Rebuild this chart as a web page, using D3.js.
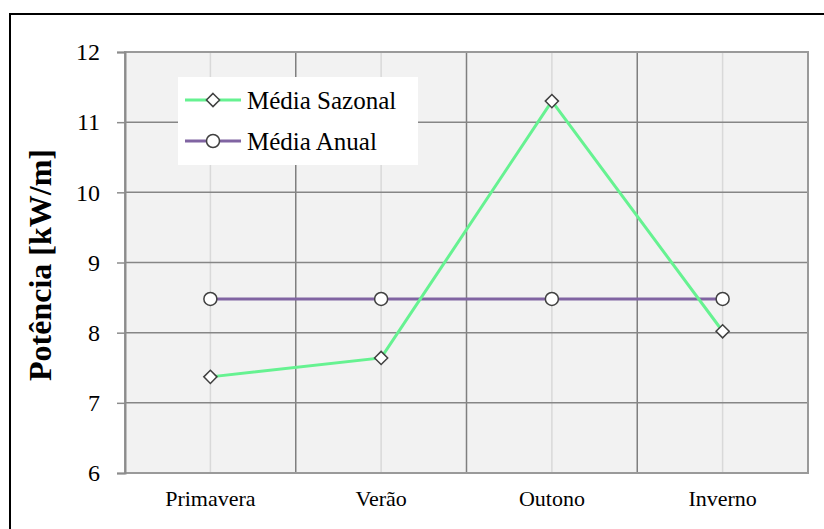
<!DOCTYPE html>
<html>
<head>
<meta charset="utf-8">
<script src="https://cdn.jsdelivr.net/npm/d3@7"></script>
<style>
  body { margin: 0; background: #ffffff; }
  svg { display: block; }
</style>
</head>
<body>
<div id="chart"></div>
<script>
// data
const categories = ["Primavera", "Verão", "Outono", "Inverno"];
const sazonal = [7.37, 7.64, 11.30, 8.02];
const anual = [8.48, 8.48, 8.48, 8.48];
const yTicks = [6, 7, 8, 9, 10, 11, 12];
const seriesNames = ["Média Sazonal", "Média Anual"];

const W = 824, H = 529;
const plot = { left: 125, top: 52, right: 808, bottom: 473 };
const serif = "Liberation Serif, Times New Roman, serif";

const svg = d3.select("#chart").append("svg")
    .attr("width", W)
    .attr("height", H);

// outer chart frame (runs off the right/bottom edge)
svg.append("rect")
    .attr("x", 10).attr("y", 14)
    .attr("width", 830).attr("height", 540)
    .attr("fill", "#ffffff")
    .attr("stroke", "#000000")
    .attr("stroke-width", 2);

let x = d3.scaleBand()
    .domain(categories)
    .range([plot.left, plot.right]);

let y = d3.scaleLinear()
    .domain([6, 12])
    .range([plot.bottom, plot.top]);

// plot background
svg.append("rect")
    .attr("x", plot.left).attr("y", plot.top)
    .attr("width", plot.right - plot.left)
    .attr("height", plot.bottom - plot.top)
    .attr("fill", "#f2f2f2");

// light vertical grid at category centres
svg.selectAll(".vgrid-minor").data(categories).enter()
    .append("line")
    .attr("class", "vgrid-minor")
    .attr("x1", d => x(d) + x.bandwidth() / 2)
    .attr("x2", d => x(d) + x.bandwidth() / 2)
    .attr("y1", plot.top).attr("y2", plot.bottom)
    .attr("stroke", "#d9d9d9")
    .attr("stroke-width", 1.5);

// dark vertical grid at category boundaries
svg.selectAll(".vgrid").data(categories.slice(1)).enter()
    .append("line")
    .attr("class", "vgrid")
    .attr("x1", d => x(d)).attr("x2", d => x(d))
    .attr("y1", plot.top).attr("y2", plot.bottom)
    .attr("stroke", "#7f7f7f")
    .attr("stroke-width", 1.5);

// horizontal grid
svg.selectAll(".hgrid").data(yTicks).enter()
    .append("line")
    .attr("class", "hgrid")
    .attr("x1", plot.left).attr("x2", plot.right)
    .attr("y1", d => y(d)).attr("y2", d => y(d))
    .attr("stroke", "#868686")
    .attr("stroke-width", 1.5);

// plot border
svg.append("rect")
    .attr("x", plot.left).attr("y", plot.top)
    .attr("width", plot.right - plot.left)
    .attr("height", plot.bottom - plot.top)
    .attr("fill", "none")
    .attr("stroke", "#9a9a9a")
    .attr("stroke-width", 2);

// y axis
let yAxis = d3.axisLeft(y).tickValues(yTicks).tickFormat(d3.format("d"))
    .tickSize(8).tickPadding(17);
let ya = svg.append("g")
    .attr("transform", "translate(" + plot.left + ",0)")
    .call(yAxis);
ya.select(".domain").attr("stroke", "#8c8c8c").attr("stroke-width", 2);
ya.selectAll(".tick line").attr("stroke", "#8c8c8c").attr("stroke-width", 1.5);
ya.selectAll(".tick text")
    .attr("font-family", serif)
    .attr("font-size", 24)
    .attr("fill", "#000000");

// x axis labels
let xAxis = d3.axisBottom(x).tickSize(0).tickPadding(17);
let xa = svg.append("g")
    .attr("transform", "translate(0," + plot.bottom + ")")
    .call(xAxis);
xa.select(".domain").remove();
xa.selectAll(".tick text")
    .attr("font-family", serif)
    .attr("font-size", 22)
    .attr("fill", "#000000");

// y title
svg.append("text")
    .attr("transform", "translate(51,265) rotate(-90)")
    .attr("text-anchor", "middle")
    .attr("font-family", serif)
    .attr("font-weight", "bold")
    .attr("font-size", 32)
    .text("Potência [kW/m]");

const cx = d => x(d) + x.bandwidth() / 2;
const line = d3.line().x(d => cx(d[0])).y(d => y(d[1]));

const green = "#66f291";
const purple = "#8064a2";
const markerStroke = "#404040";

// Média Anual
svg.append("path")
    .datum(categories.map((c, i) => [c, anual[i]]))
    .attr("d", line)
    .attr("fill", "none")
    .attr("stroke", purple)
    .attr("stroke-width", 3);

svg.selectAll(".anual-pt").data(categories).enter()
    .append("circle")
    .attr("class", "anual-pt")
    .attr("cx", d => cx(d))
    .attr("cy", (d, i) => y(anual[i]))
    .attr("r", 6.5)
    .attr("fill", "#ffffff")
    .attr("stroke", markerStroke)
    .attr("stroke-width", 1.5);

// Média Sazonal
svg.append("path")
    .datum(categories.map((c, i) => [c, sazonal[i]]))
    .attr("d", line)
    .attr("fill", "none")
    .attr("stroke", green)
    .attr("stroke-width", 3);

let diamond = d3.symbol().type(d3.symbolDiamond2).size(110);
svg.selectAll(".saz-pt").data(categories).enter()
    .append("path")
    .attr("class", "saz-pt")
    .attr("d", diamond)
    .attr("transform", (d, i) => "translate(" + cx(d) + "," + y(sazonal[i]) + ")")
    .attr("fill", "#ffffff")
    .attr("stroke", markerStroke)
    .attr("stroke-width", 1.5);

// legend
let lg = svg.append("g").attr("transform", "translate(178,77)");
lg.append("rect")
    .attr("width", 240).attr("height", 88)
    .attr("fill", "#ffffff");

const legendRows = [
    { name: seriesNames[0], color: green, shape: "diamond", y: 23 },
    { name: seriesNames[1], color: purple, shape: "circle", y: 64 }
];
legendRows.forEach(r => {
    lg.append("line")
        .attr("x1", 7).attr("x2", 63)
        .attr("y1", r.y).attr("y2", r.y)
        .attr("stroke", r.color)
        .attr("stroke-width", 3);
    if (r.shape === "diamond") {
        lg.append("path")
            .attr("d", diamond)
            .attr("transform", "translate(35," + r.y + ")")
            .attr("fill", "#ffffff")
            .attr("stroke", markerStroke)
            .attr("stroke-width", 1.5);
    } else {
        lg.append("circle")
            .attr("cx", 35).attr("cy", r.y).attr("r", 6.5)
            .attr("fill", "#ffffff")
            .attr("stroke", markerStroke)
            .attr("stroke-width", 1.5);
    }
    lg.append("text")
        .attr("x", 69).attr("y", r.y)
        .attr("dy", "0.35em")
        .attr("font-family", serif)
        .attr("font-size", 25)
        .text(r.name);
});
</script>
</body>
</html>
